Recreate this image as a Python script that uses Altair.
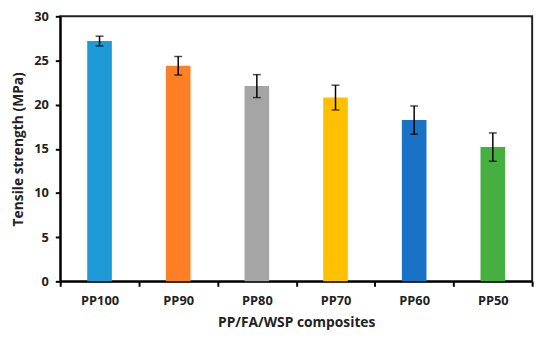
import altair as alt
import pandas as pd

samples = ["PP100", "PP90", "PP80", "PP70", "PP60", "PP50"]
strength = [27.2, 24.4, 22.1, 20.8, 18.25, 15.2]
errors = [0.55, 1.05, 1.3, 1.4, 1.6, 1.6]
colors = ["#1E9BD7", "#FF7F27", "#A5A5A5", "#FFC000", "#1A72C6", "#45B040"]
y_ticks = [0, 5, 10, 15, 20, 25, 30]

df = pd.DataFrame({"sample": samples, "strength": strength, "err": errors, "color": colors})
df["low"] = df["strength"] - df["err"]
df["high"] = df["strength"] + df["err"]

FONT = "Open Sans"

x = alt.X(
    "sample:N",
    sort=samples,
    scale=alt.Scale(paddingInner=0, paddingOuter=0),
    axis=alt.Axis(
        title="PP/FA/WSP composites",
        tickBand="extent",
        labelAngle=0,
        labelFont=FONT,
        labelFontWeight="bold",
        labelFontSize=13,
        labelColor="#222222",
        labelPadding=9,
        titleFont=FONT,
        titleFontWeight="bold",
        titleFontSize=14,
        titleColor="#222222",
        titlePadding=8,
        domainColor="black",
        domainWidth=2,
        tickColor="black",
        tickWidth=2,
        tickSize=5,
    ),
)

y_axis = alt.Axis(
    title="Tensile strength (MPa)",
    values=y_ticks,
    grid=False,
    labelFont=FONT,
    labelFontWeight="bold",
    labelFontSize=13,
    labelColor="#222222",
    labelPadding=7,
    titleFont=FONT,
    titleFontWeight="bold",
    titleFontSize=14,
    titleColor="#222222",
    titlePadding=8,
    domainColor="black",
    domainWidth=2,
    tickColor="black",
    tickWidth=2,
    tickSize=5,
)

bars = alt.Chart(df).mark_bar(size=25).encode(
    x=x,
    y=alt.Y("strength:Q", scale=alt.Scale(domain=[0, 30], nice=False), axis=y_axis),
    color=alt.Color("color:N", scale=None, legend=None),
)

err = alt.Chart(df).mark_errorbar(ticks=alt.MarkConfig(size=8, color="black", strokeWidth=1.5), color="black", thickness=1.5).encode(
    x=alt.X("sample:N", sort=samples),
    y=alt.Y("low:Q", title="Tensile strength (MPa)"),
    y2="high:Q",
)

chart = (
    alt.layer(bars, err)
    .properties(
        width=479,
        height=269,
        autosize=alt.AutoSizeParams(type="none"),
        padding={"left": 53, "top": 6, "right": 10, "bottom": 50},
    )
    .configure_view(stroke="#222222", strokeWidth=2)
)

chart.save("out.html", embed_options={"renderer": "svg", "actions": False})
